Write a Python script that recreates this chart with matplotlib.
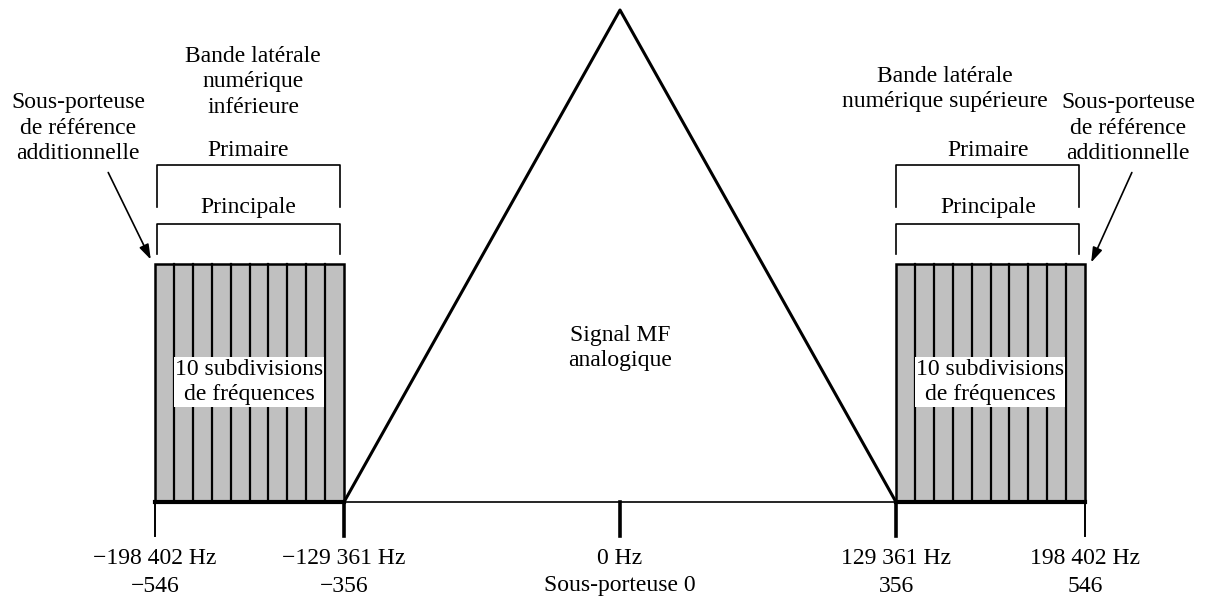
import numpy as np
import matplotlib.pyplot as plt
from matplotlib.patches import Rectangle

# subcarrier indices at the band edges and the labels under them
subcarriers = [-546, -356, 0, 356, 546]
freq_labels = ["\u2212198 402 Hz", "\u2212129 361 Hz", "0 Hz", "129 361 Hz", "198 402 Hz"]
sub_labels = ["\u2212546", "\u2212356", "Sous-porteuse 0", "356", "546"]
n_partitions = 10

# schematic (not to scale) horizontal axis: piecewise linear
xp = [-1000, -546, -356, 0, 356, 546, 1000]
fp = [-919, -465, -276, 0, 276, 465, 919]

def fwd(x):
    return np.interp(x, xp, fp)

def inv(x):
    return np.interp(x, fp, xp)

plt.rcParams['font.family'] = ['Liberation Serif', 'DejaVu Serif']
FS = 17
LS = 1.3

fig = plt.figure(figsize=(12.06, 5.99), dpi=100)
ax = fig.add_axes([0, 0, 1, 1])
ax.set_xscale('function', functions=(fwd, inv))
ax.set_xlim(inv(-620), inv(586))
ax.set_ylim(599, 0)
ax.axis('off')

ann = fig.add_axes([0, 0, 1, 1])
ann.set_xlim(0, 1206)
ann.set_ylim(599, 0)
ann.axis('off')
ann.patch.set_alpha(0)

base = 502
top = 264

# sideband boxes with partitions
for lo, hi in [(subcarriers[0], subcarriers[1]), (subcarriers[3], subcarriers[4])]:
    ax.add_patch(Rectangle((lo, top), hi - lo, base - top, facecolor='#c0c0c0',
                           edgecolor='black', lw=1.8, zorder=2))
    edges = np.linspace(lo, hi, n_partitions + 1)
    for e in edges[1:-1]:
        ax.plot([e, e], [top, base], color='black', lw=1.6, zorder=3)
    ax.plot([lo, hi], [base, base], color='black', lw=3, zorder=4)

# analog FM triangle
ax.plot([subcarriers[1], subcarriers[2], subcarriers[3]], [base, 10, base],
        color='black', lw=2.2, zorder=3)
ax.plot([subcarriers[1], subcarriers[3]], [base, base], color='black', lw=1.2, zorder=3)

# ticks and labels
for i, (s, fl, sl) in enumerate(zip(subcarriers, freq_labels, sub_labels)):
    w = 1.4 if i in (0, 4) else 2.6
    ax.plot([s, s], [base, 536], color='black', lw=w, zorder=3)
    ax.text(s, 558, fl, ha='center', va='center', fontsize=FS)
    ax.text(s, 586, sl, ha='center', va='center', fontsize=FS)

# brackets
def bracket(x0, x1, y0, y1):
    ann.plot([x0, x0, x1, x1], [y1, y0, y0, y1], color='black', lw=1.2)

for x0, x1, cx in [(157, 340, 248), (896, 1079, 988)]:
    bracket(x0, x1, 165, 207)
    bracket(x0, x1, 224, 254)
    ann.text(cx, 150, "Primaire", ha='center', va='center', fontsize=FS)
    ann.text(cx, 207, "Principale", ha='center', va='center', fontsize=FS)

ann.text(253, 82, "Bande latérale\nnumérique\ninférieure", ha='center', va='center',
         fontsize=FS, linespacing=LS)
ann.text(945, 89, "Bande latérale\nnumérique supérieure", ha='center', va='center',
         fontsize=FS, linespacing=LS)
ann.text(78, 128, "Sous-porteuse\nde référence\nadditionnelle", ha='center', va='center',
         fontsize=FS, linespacing=LS)
ann.text(1128, 128, "Sous-porteuse\nde référence\nadditionnelle", ha='center', va='center',
         fontsize=FS, linespacing=LS)

ann.annotate("", xy=(152, 262), xytext=(107, 170),
             arrowprops=dict(arrowstyle='-|>,head_length=0.9,head_width=0.3', color='black', lw=1.2))
ann.annotate("", xy=(1090, 265), xytext=(1133, 170),
             arrowprops=dict(arrowstyle='-|>,head_length=0.9,head_width=0.3', color='black', lw=1.2))

ann.text(620, 348, "Signal MF\nanalogique", ha='center', va='center', fontsize=FS,
         linespacing=LS)
for cx in [249, 990]:
    ann.text(cx, 382, "10 subdivisions\nde fréquences", ha='center', va='center',
             fontsize=FS, linespacing=LS,
             bbox=dict(facecolor='white', edgecolor='none', pad=1))

fig.savefig("out.png", dpi=100)
